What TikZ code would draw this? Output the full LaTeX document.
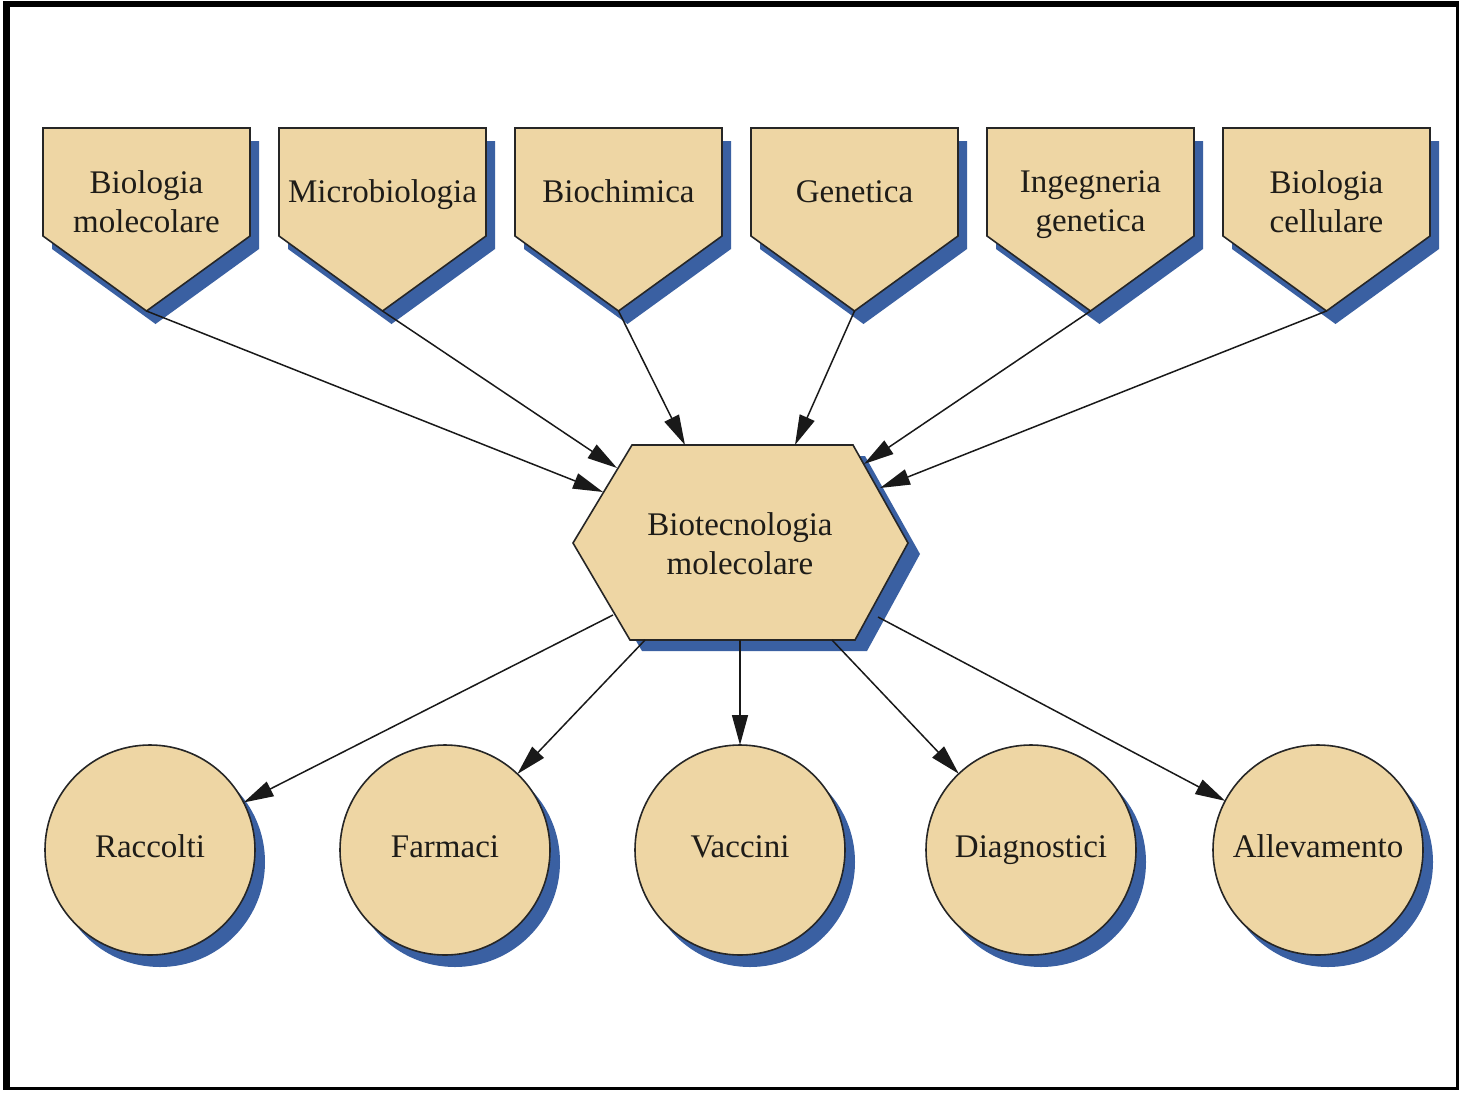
\documentclass[tikz,border=0pt]{standalone}
\usepackage{fontspec}
\setmainfont{Liberation Serif}
\usetikzlibrary{arrows.meta}
\definecolor{beige}{RGB}{238,214,164}
\definecolor{shadowblue}{RGB}{58,96,162}
\definecolor{ink}{RGB}{30,28,24}
\begin{document}
\begin{tikzpicture}[x=0.5pt,y=-0.5pt,
  shapeline/.style={draw=black!85, line width=0.8pt, fill=beige},
  shade/.style={fill=shadowblue},
  lbl/.style={font=\fontsize{16.5}{19.5}\selectfont, text=ink, align=center, inner sep=0pt,
              execute at end node={\vphantom{g}}},
  conn/.style={line width=0.75pt, draw=black!90, -{Triangle[length=15pt,width=8pt]}},
  disc/.style={circle, minimum size=105pt, inner sep=0pt, outer sep=0pt, shapeline, lbl}]
\useasboundingbox (0,0) rectangle (1461,1092);
% frame
\fill[black] (3,1) rectangle (1459,1090);
\fill[white] (10,7) rectangle (1456,1087);
% pentagons
\foreach \cx/\n/\ty/\t in {146.5/1/205/{Biologia\\molecolare},
                           382.5/2/195/{Microbiologia},
                           618.5/3/195/{Biochimica},
                           854.5/4/195/{Genetica},
                           1090.5/5/205/{Ingegneria\\genetica},
                           1326.5/6/205/{Biologia\\cellulare}} {
  \fill[shade] ({\cx-94.5},141) -- ({\cx+112.5},141) -- ({\cx+112.5},249) -- ({\cx+9},324) -- ({\cx-94.5},249) -- cycle;
  \path[shapeline] ({\cx-103.5},128) -- ({\cx+103.5},128) -- ({\cx+103.5},236) -- (\cx,311) -- ({\cx-103.5},236) -- cycle;
  \node[lbl] (p\n) at (\cx,\ty) {\t};
  \coordinate (tip\n) at (\cx,311);
}
% hexagon
\fill[shade] (585,554) -- (644,456) -- (865,456) -- (920,554) -- (867,651) -- (642,651) -- cycle;
\path[shapeline] (573,543) -- (632,445) -- (853,445) -- (908,543) -- (855,640) -- (630,640) -- cycle;
\node[lbl] (hex) at (740,547) {Biotecnologia\\molecolare};
% arrow ends on hexagon
\coordinate (h1) at (603,492);
\coordinate (h2) at (617,468);
\coordinate (h3) at (685,445);
\coordinate (h4) at (795,445);
\coordinate (h5) at (864,464);
\coordinate (h6) at (880,488);
\coordinate (b1) at (613,615);
\coordinate (b2) at (645,640);
\coordinate (b3) at (740,640);
\coordinate (b4) at (832,640);
\coordinate (b5) at (878,617);
% circles
\foreach \cx/\n/\t in {150/1/Raccolti, 445/2/Farmaci, 740/3/Vaccini, 1031/4/Diagnostici, 1318/5/Allevamento} {
  \fill[shade] ({\cx+10},862) circle[radius=52.5pt];
  \node[disc] (c\n) at (\cx,850) {\t};
}
% connectors
\foreach \i in {1,...,6} { \draw[conn] (tip\i) -- (h\i); }
\foreach \i in {1,...,5} { \draw[conn] (b\i) -- (c\i); }
\end{tikzpicture}
\end{document}
